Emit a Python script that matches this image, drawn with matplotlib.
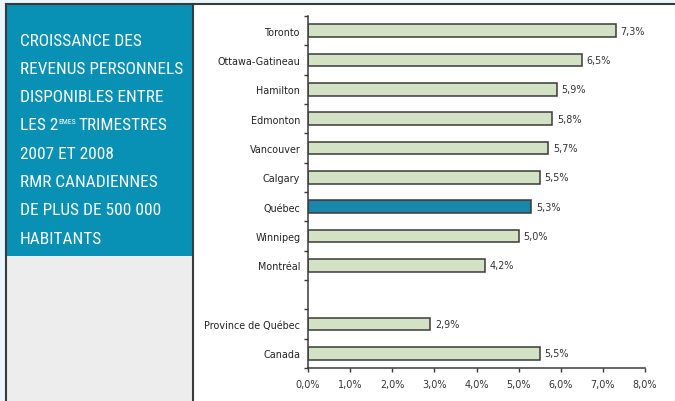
import numpy as np
import matplotlib.pyplot as plt
from matplotlib import font_manager
from matplotlib.patches import Rectangle
from matplotlib.lines import Line2D

# Croissance des revenus personnels disponibles (%), 2e trimestre 2007 -> 2008
regions = ['Toronto', 'Ottawa-Gatineau', 'Hamilton', 'Edmonton', 'Vancouver',
           'Calgary', 'Québec', 'Winnipeg', 'Montréal',
           'Province de Québec', 'Canada']
growth = [7.3, 6.5, 5.9, 5.8, 5.7, 5.5, 5.3, 5.0, 4.2, 2.9, 5.5]
highlight = 'Québec'
xticks = [0, 1, 2, 3, 4, 5, 6, 7, 8]

title_lines = ['CROISSANCE DES', 'REVENUS PERSONNELS', 'DISPONIBLES ENTRE',
               None, '2007 ET 2008', 'RMR CANADIENNES',
               'DE PLUS DE 500 000', 'HABITANTS']

W, H = 675, 402
fig = plt.figure(figsize=(W / 100, H / 100), dpi=100)
fig.patch.set_facecolor('#e9f6fd')

def px(x, y, w, h):
    # pixel box (top-left origin) -> figure fraction
    return [x / W, 1 - (y + h) / H, w / W, h / H]

bg = fig.add_axes([0, 0, 1, 1])
bg.set_xlim(0, W)
bg.set_ylim(H, 0)
bg.axis('off')
bg.add_patch(Rectangle((6, 5), W - 6, H - 5, facecolor='white', edgecolor='none'))
bg.add_patch(Rectangle((7, 6), 185, 251, facecolor='#0891b5', edgecolor='none'))
bg.add_patch(Rectangle((7, 257), 185, H - 257, facecolor='#ededed', edgecolor='none'))
bg.add_line(Line2D([6, 6], [5, H], color='#3a3a3a', lw=1.5))
bg.add_line(Line2D([6, W], [5, 5], color='#3a3a3a', lw=1.5))
bg.add_line(Line2D([192.5, 192.5], [5, H], color='#3a3a3a', lw=1.5))

# narrowest available family for the title block
installed = {f.name for f in font_manager.fontManager.ttflist}
title_family = 'DejaVu Sans'
for cand in ['Roboto Condensed', 'Liberation Sans Narrow', 'DejaVu Sans Condensed',
             'Open Sans Condensed', 'Roboto', 'Liberation Sans']:
    if cand in installed:
        title_family = cand
        break

r = fig.canvas.get_renderer()
tfont = dict(family=[title_family, 'DejaVu Sans'], color='white',
             va='baseline', ha='left', fontsize=15)
# shrink until the widest line fits the panel
probe = bg.text(20, 0, 'REVENUS PERSONNELS', **tfont)
while probe.get_window_extent(r).width > 164 and tfont['fontsize'] > 6:
    tfont['fontsize'] -= 0.1
    probe.set_fontsize(tfont['fontsize'])
probe.remove()

for i, line in enumerate(title_lines):
    yb = 45.5 + i * 28.3
    if line is not None:
        bg.text(20, yb, line, **tfont)
        continue
    t1 = bg.text(20, yb, 'LES 2', **tfont)
    x1 = 20 + t1.get_window_extent(r).width
    t2 = bg.text(x1 + 0.5, yb - 6.5, 'EMES', **{**tfont, 'fontsize': tfont['fontsize'] * 0.45})
    bg.text(x1 + 0.5 + t2.get_window_extent(r).width + 1.5, yb, 'TRIMESTRES', **tfont)

# bar chart
ax = fig.add_axes(px(308, 17, 337, 352))
pos = np.delete(np.arange(12), 9)
colors = ['#1a87aa' if r_ == highlight else '#d3e2c5' for r_ in regions]
ax.barh(pos, growth, height=0.44, color=colors, edgecolor='#3a3a3a', linewidth=1.1)
for p, v in zip(pos, growth):
    ax.text(v + 0.12, p, f'{v:.1f}%'.replace('.', ','), va='center', ha='left',
            fontsize=6.9, color='#333333', family='DejaVu Sans')

ax.set_ylim(11.5, -0.5)
ax.set_xlim(0, 8)
ax.set_yticks(pos)
ax.set_yticklabels(regions, fontsize=6.9, color='#222222')
ax.set_yticks(np.arange(-0.5, 12), minor=True)
ax.tick_params(axis='y', which='major', length=0, pad=5.5)
ax.tick_params(axis='y', which='minor', length=3, width=1, color='#3a3a3a')
ax.set_xticks(xticks)
ax.set_xticklabels([f'{x:.1f}%'.replace('.', ',') for x in xticks],
                   fontsize=6.9, color='#333333')
ax.tick_params(axis='x', length=3, width=1, color='#3a3a3a', pad=5)
for s in ['top', 'right']:
    ax.spines[s].set_visible(False)
for s in ['left', 'bottom']:
    ax.spines[s].set_color('#3a3a3a')
    ax.spines[s].set_linewidth(1.1)
ax.set_facecolor('none')

fig.savefig('out.png', dpi=100)
